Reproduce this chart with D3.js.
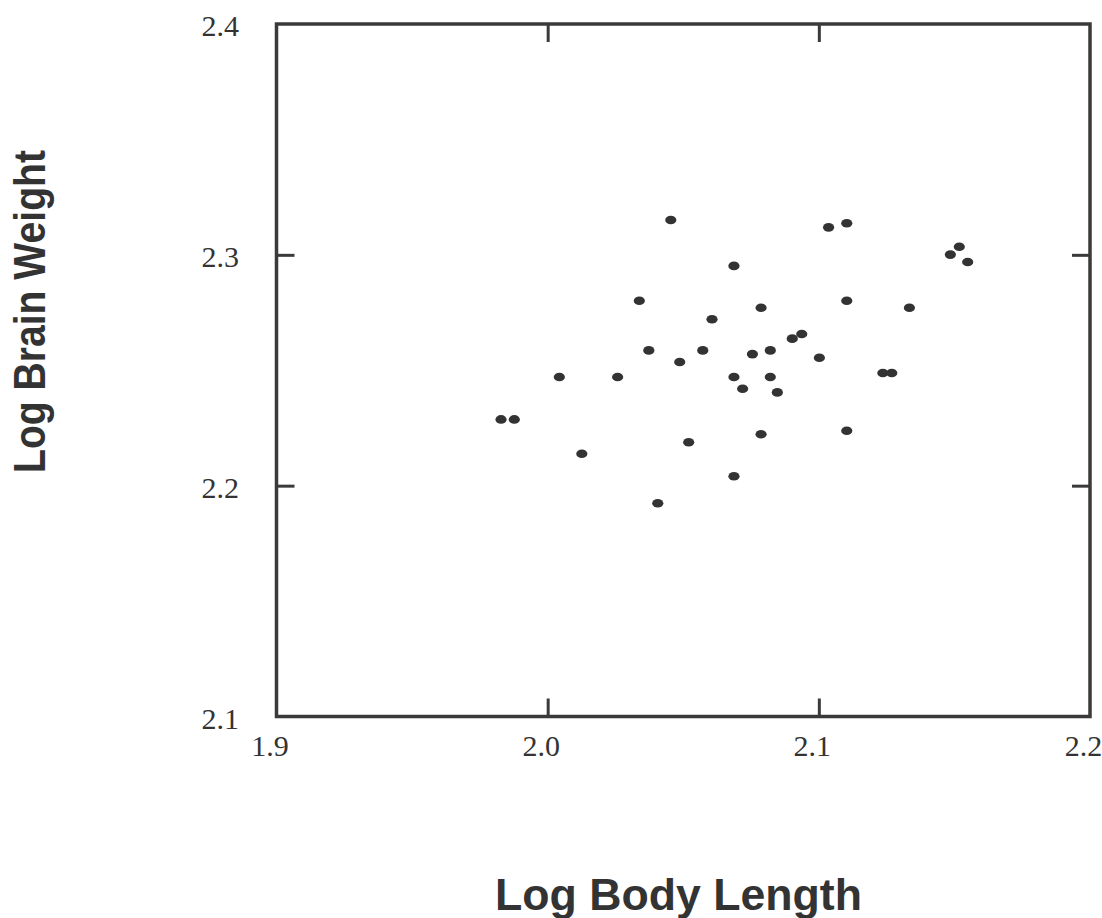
<!DOCTYPE html>
<html>
<head>
<meta charset="utf-8">
<script src="https://cdn.jsdelivr.net/npm/d3@7"></script>
<style>
  html, body { margin: 0; padding: 0; background: #fff; }
  svg { display: block; }
</style>
</head>
<body>
<svg id="chart" width="1102" height="918"></svg>
<script>
// Data
const logBodyLength = [
  2.0454, 2.0687, 2.0338, 2.0787, 2.0606, 2.0373, 2.0572, 2.0755, 2.0821, 2.0487,
  2.0043, 2.0258, 2.0687, 2.0821, 2.0719, 2.0847, 1.9828, 1.9877, 2.0787, 2.0520,
  2.0126, 2.0687, 2.0406, 2.1036, 2.1103, 2.1518, 2.1485, 2.1549, 2.1103, 2.1334,
  2.0902, 2.0937, 2.1002, 2.1236, 2.1269, 2.1103
];
const logBrainWeight = [
  2.3151, 2.2952, 2.2801, 2.2771, 2.2721, 2.2586, 2.2586, 2.2570, 2.2586, 2.2536,
  2.2471, 2.2471, 2.2471, 2.2471, 2.2420, 2.2404, 2.2287, 2.2287, 2.2223, 2.2188,
  2.2138, 2.2041, 2.1924, 2.3119, 2.3137, 2.3035, 2.3001, 2.2969, 2.2801, 2.2771,
  2.2637, 2.2657, 2.2554, 2.2488, 2.2488, 2.2238
];
const xTickLabels = [1.9, 2.0, 2.1, 2.2];
const yTickLabels = [2.1, 2.2, 2.3, 2.4];
const xInnerTicks = [2.0, 2.1];
const yInnerTicks = [2.2, 2.3];
const xTitle = "Log Body Length";
const yTitle = "Log Brain Weight";

const pLeft = 276.5, pRight = 1090, pTop = 24, pBottom = 716.5;
const ink = "#3a3a3a";

const svg = d3.select("#chart");
const x = d3.scaleLinear().domain([1.9, 2.2]).range([pLeft, pRight]);
const y = d3.scaleLinear().domain([2.1, 2.4]).range([pBottom, pTop]);
const fmt = d3.format(".1f");
const tickLen = 18;

function styleTicks(g, innerVals) {
  g.select(".domain").remove();
  g.selectAll(".tick line")
    .attr("stroke", ink)
    .attr("stroke-width", 3)
    .attr("opacity", d => innerVals.some(v => Math.abs(v - d) < 1e-9) ? 1 : 0);
  g.selectAll(".tick text")
    .attr("fill", "#333")
    .attr("font-family", "'Liberation Serif', 'Times New Roman', serif")
    .attr("font-size", 30);
}

// bottom axis
const gb = svg.append("g").attr("transform", `translate(0,${pBottom})`)
  .call(d3.axisBottom(x).tickValues(xTickLabels).tickSize(-tickLen).tickFormat(fmt));
styleTicks(gb, xInnerTicks);
gb.selectAll(".tick text").attr("y", 39.5).attr("dy", null).attr("dx", -7);

// left axis
const gl = svg.append("g").attr("transform", `translate(${pLeft},0)`)
  .call(d3.axisLeft(y).tickValues(yTickLabels).tickSize(-tickLen).tickFormat(fmt));
styleTicks(gl, yInnerTicks);
gl.selectAll(".tick text").attr("x", -37.5).attr("dy", null).attr("y", 11.5).attr("text-anchor", "end");

// top axis
const gt = svg.append("g").attr("transform", `translate(0,${pTop})`)
  .call(d3.axisTop(x).tickValues(xInnerTicks).tickSize(-tickLen).tickFormat(""));
styleTicks(gt, xInnerTicks);

// right axis
const gr = svg.append("g").attr("transform", `translate(${pRight},0)`)
  .call(d3.axisRight(y).tickValues(yInnerTicks).tickSize(-tickLen).tickFormat(""));
styleTicks(gr, yInnerTicks);

// frame
svg.append("rect")
  .attr("x", x(1.9)).attr("y", y(2.4))
  .attr("width", x(2.2) - x(1.9)).attr("height", y(2.1) - y(2.4))
  .attr("fill", "none").attr("stroke", ink).attr("stroke-width", 3.5);

// points
const pts = logBodyLength.map((v, i) => ({ x: v, y: logBrainWeight[i] }));
svg.append("g").selectAll("ellipse").data(pts).join("ellipse")
  .attr("cx", d => x(d.x)).attr("cy", d => y(d.y))
  .attr("rx", 5.6).attr("ry", 4.3)
  .attr("fill", "#333");

// titles
svg.append("text")
  .attr("x", 678.5).attr("y", 910)
  .attr("text-anchor", "middle")
  .attr("font-family", "'Liberation Sans', Arial, Helvetica, sans-serif")
  .attr("font-weight", "bold").attr("font-size", 44)
  .attr("fill", "#333")
  .attr("textLength", 367).attr("lengthAdjust", "spacingAndGlyphs")
  .text(xTitle);

svg.append("text")
  .attr("transform", "translate(45,311.5) rotate(-90)")
  .attr("text-anchor", "middle")
  .attr("font-family", "'Liberation Sans', Arial, Helvetica, sans-serif")
  .attr("font-weight", "bold").attr("font-size", 44)
  .attr("fill", "#333")
  .attr("textLength", 323).attr("lengthAdjust", "spacingAndGlyphs")
  .text(yTitle);
</script>
</body>
</html>
